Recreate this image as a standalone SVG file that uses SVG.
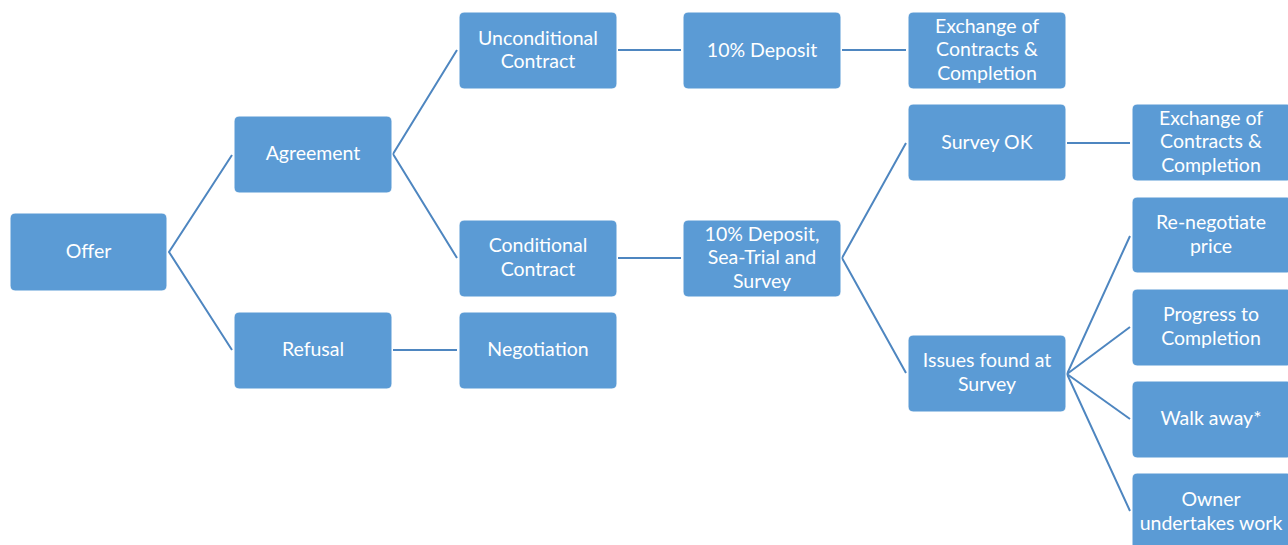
<svg xmlns="http://www.w3.org/2000/svg" width="1288" height="545" viewBox="0 0 1288 545">
<style>
.n rect{fill:#5B9BD5;stroke:#FFFFFF;stroke-width:1}
.n text{fill:#FFFFFF;font-family:Lato,"Open Sans",sans-serif;font-size:19.5px;text-anchor:middle}
#connectors path{fill:none;stroke:#4E86C0;stroke-width:2}
</style>
<rect width="1288" height="545" fill="#FFFFFF"/>
<g id="connectors">
<path d="M232,155 L169,252 L232,350"/>
<path d="M457,50 L393,154 L457,258"/>
<path d="M393,350 H457"/>
<path d="M618,50 H681"/>
<path d="M842,50 H906"/>
<path d="M618,258 H681"/>
<path d="M906,143 L842,258 L906,373"/>
<path d="M1067,143 H1130"/>
<path d="M1130,236 L1067,374 L1130,511"/>
<path d="M1067,374 L1130,327"/>
<path d="M1067,374 L1130,419"/>
</g>
<g id="offer" class="n"><rect x="10" y="213" width="157" height="78" rx="5"/><text x="88.5" y="258">Offer</text></g>
<g id="agreement" class="n"><rect x="234" y="116" width="158" height="77" rx="5"/><text x="313" y="160">Agreement</text></g>
<g id="refusal" class="n"><rect x="234" y="312" width="158" height="77" rx="5"/><text x="313" y="356">Refusal</text></g>
<g id="unconditional" class="n"><rect x="459" y="12" width="158" height="77" rx="5"/><text x="538" y="45">Unconditional</text><text x="538" y="68">Contract</text></g>
<g id="conditional" class="n"><rect x="459" y="220" width="158" height="77" rx="5"/><text x="538" y="252">Conditional</text><text x="538" y="276">Contract</text></g>
<g id="negotiation" class="n"><rect x="459" y="312" width="158" height="77" rx="5"/><text x="538" y="356">Negotiation</text></g>
<g id="deposit" class="n"><rect x="683" y="12" width="158" height="77" rx="5"/><text x="762" y="57">10% Deposit</text></g>
<g id="deposit-sea-trial" class="n"><rect x="683" y="220" width="158" height="77" rx="5"/><text x="762" y="241">10% Deposit,</text><text x="762" y="264">Sea-Trial and</text><text x="762" y="288">Survey</text></g>
<g id="exchange-1" class="n"><rect x="908" y="12" width="158" height="77" rx="5"/><text x="987" y="33">Exchange of</text><text x="987" y="56">Contracts &amp;</text><text x="987" y="80">Completion</text></g>
<g id="survey-ok" class="n"><rect x="908" y="104" width="158" height="77" rx="5"/><text x="987" y="149">Survey OK</text></g>
<g id="issues" class="n"><rect x="908" y="335" width="158" height="77" rx="5"/><text x="987" y="367">Issues found at</text><text x="987" y="391">Survey</text></g>
<g id="exchange-2" class="n"><rect x="1132" y="104" width="160" height="77" rx="5"/><text x="1211" y="125">Exchange of</text><text x="1211" y="148">Contracts &amp;</text><text x="1211" y="172">Completion</text></g>
<g id="renegotiate" class="n"><rect x="1132" y="197" width="160" height="76" rx="5"/><text x="1211" y="229">Re-negotiate</text><text x="1211" y="253">price</text></g>
<g id="progress" class="n"><rect x="1132" y="289" width="160" height="77" rx="5"/><text x="1211" y="321">Progress to</text><text x="1211" y="345">Completion</text></g>
<g id="walk-away" class="n"><rect x="1132" y="381" width="160" height="77" rx="5"/><text x="1211" y="425">Walk away*</text></g>
<g id="owner-work" class="n"><rect x="1132" y="473" width="160" height="80" rx="5"/><text x="1211" y="506">Owner</text><text x="1211" y="530">undertakes work</text></g>
</svg>
